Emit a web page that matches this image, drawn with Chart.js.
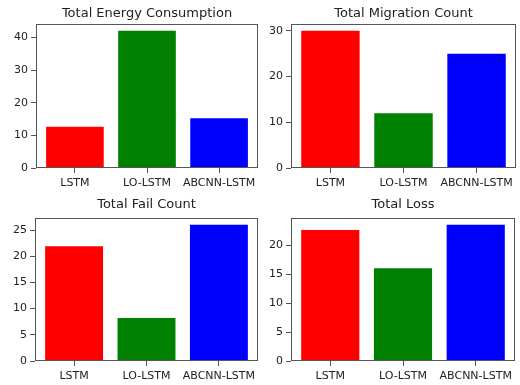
<!DOCTYPE html>
<html>
<head>
<meta charset="utf-8">
<script src="https://cdn.jsdelivr.net/npm/chart.js@4"></script>
<style>
  body { margin: 0; background: #fff; }
  #wrap { position: relative; width: 520px; height: 385px; overflow: hidden; }
  #wrap canvas { position: absolute; }
</style>
</head>
<body>
<div id="wrap">
  <canvas id="energyChart" width="260" height="192" style="left:0;top:0"></canvas>
  <canvas id="migrationChart" width="260" height="192" style="left:260px;top:0"></canvas>
  <canvas id="failChart" width="260" height="193" style="left:0;top:192px"></canvas>
  <canvas id="lossChart" width="260" height="193" style="left:260px;top:192px"></canvas>
</div>
<script>
// models and their results
const models = ["LSTM", "LO-LSTM", "ABCNN-LSTM"];
const barColors = ["#ff0000", "#008000", "#0000ff"];

const energy = [12.6, 42.0, 15.2];
const migration = [30, 12, 25];
const fail = [21.9, 8.2, 26];
const loss = [22.6, 16.0, 23.5];

const titles = ["Total Energy Consumption", "Total Migration Count", "Total Fail Count", "Total Loss"];
const tickSteps = [10, 10, 5, 5];

// draw the full box around the plot area (matplotlib spines)
const boxPlugin = {
  id: "box",
  afterDraw(chart) {
    const a = chart.chartArea;
    const ctx = chart.ctx;
    ctx.save();
    ctx.strokeStyle = "#555";
    ctx.lineWidth = 1;
    const l = Math.round(a.left) + 0.5, t = Math.round(a.top) + 0.5;
    const r = Math.round(a.right) - 0.5, b = Math.round(a.bottom) - 0.5;
    ctx.strokeRect(l, t, r - l, b - t);
    ctx.restore();
  }
};

function makeChart(id, title, values, step, layout) {
  const ctx = document.getElementById(id).getContext("2d");
  return new Chart(ctx, {
    type: "bar",
    data: {
      datasets: [{
        data: values.map((v, i) => ({ x: i, y: v })),
        backgroundColor: barColors,
        borderWidth: 0,
        categoryPercentage: 1,
        barPercentage: 0.8,
      }],
    },
    options: {
      responsive: false,
      animation: false,
      layout: { padding: { left: 0, right: layout.right, top: 0, bottom: 0 } },
      plugins: {
        legend: { display: false },
        tooltip: { enabled: false },
        title: {
          display: true,
          fullSize: false,
          text: title,
          color: "#222",
          font: { family: "DejaVu Sans", size: 13, weight: "normal", lineHeight: 1 },
          padding: { top: layout.titleTop, bottom: layout.titleBottom },
        },
      },
      scales: {
        x: {
          type: "linear",
          min: -0.54,
          max: 2.54,
          offset: false,
          afterBuildTicks: s => { s.ticks = models.map((_, i) => ({ value: i })); },
          afterFit: s => { s.height = layout.xHeight; },
          border: { display: false },
          grid: { offset: false, drawOnChartArea: false, drawTicks: true, tickLength: 5, color: "#555" },
          ticks: {
            callback: v => models[v],
            color: "#222",
            padding: 4,
            maxRotation: 0,
            autoSkip: false,
            font: { family: "DejaVu Sans", size: 11 },
          },
        },
        y: {
          min: 0,
          max: Math.max(...values) * 1.05,
          afterFit: s => { s.width = layout.yWidth; },
          border: { display: false },
          grid: { drawOnChartArea: false, drawTicks: true, tickLength: 5, color: "#555" },
          ticks: {
            stepSize: step,
            includeBounds: false,
            color: "#222",
            padding: 3,
            font: { family: "DejaVu Sans", size: 11 },
          },
        },
      },
    },
    plugins: [boxPlugin],
  });
}

document.addEventListener("DOMContentLoaded", () => {
  makeChart("energyChart", titles[0], energy, tickSteps[0],
    { yWidth: 36, right: 2, xHeight: 24, titleTop: 7, titleBottom: 4 });
  makeChart("migrationChart", titles[1], migration, tickSteps[1],
    { yWidth: 31, right: 4, xHeight: 24, titleTop: 7, titleBottom: 4 });
  makeChart("failChart", titles[2], fail, tickSteps[2],
    { yWidth: 35, right: 2, xHeight: 24, titleTop: 6, titleBottom: 7 });
  makeChart("lossChart", titles[3], loss, tickSteps[3],
    { yWidth: 31, right: 5, xHeight: 24, titleTop: 6, titleBottom: 7 });
});
</script>
</body>
</html>
